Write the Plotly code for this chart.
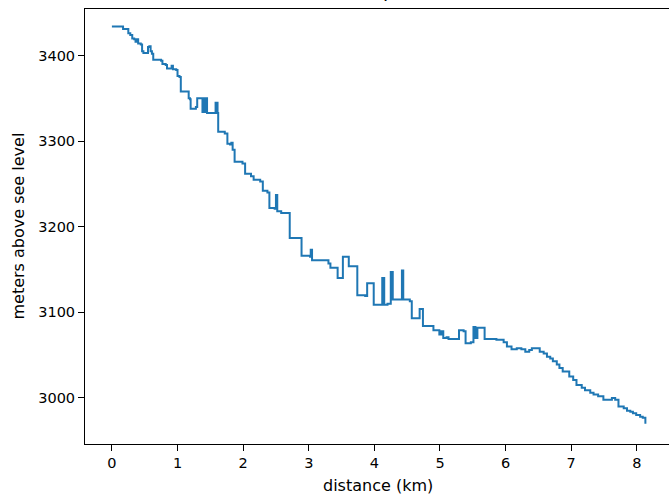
import plotly.graph_objects as go

distance_km = [0.00, 0.13, 0.17, 0.22, 0.25, 0.28, 0.31, 0.34, 0.36, 0.38, 0.39, 0.40, 0.44, 0.46, 0.48,
               0.53, 0.55, 0.57, 0.59, 0.61, 0.63, 0.75, 0.77, 0.82, 0.84, 0.89, 0.91, 0.93, 0.98, 1.00,
               1.03, 1.05, 1.15, 1.17, 1.19, 1.20, 1.28, 1.30, 1.37, 1.38, 1.385, 1.39, 1.40, 1.41, 1.42,
               1.43, 1.44, 1.45, 1.56, 1.58, 1.60, 1.61, 1.62, 1.72, 1.76, 1.80, 1.82, 1.84, 1.86, 1.87,
               1.99, 2.03, 2.12, 2.16, 2.26, 2.30, 2.37, 2.40, 2.48, 2.50, 2.52, 2.58, 2.69, 2.71, 2.87,
               2.89, 3.02, 3.03, 3.05, 3.17, 3.30, 3.33, 3.42, 3.44, 3.50, 3.52, 3.58, 3.61, 3.72, 3.74,
               3.86, 3.89, 3.96, 3.99, 4.09, 4.12, 4.15, 4.20, 4.25, 4.28, 4.39, 4.42, 4.44, 4.54, 4.57,
               4.66, 4.69, 4.72, 4.74, 4.87, 4.90, 4.96, 4.99, 5.02, 5.05, 5.10, 5.13, 5.26, 5.29, 5.36,
               5.39, 5.47, 5.51, 5.54, 5.57, 5.66, 5.68, 5.86, 5.97, 6.02, 6.09, 6.17, 6.24, 6.30, 6.36,
               6.40, 6.47, 6.52, 6.58, 6.63, 6.68, 6.72, 6.78, 6.82, 6.87, 6.93, 6.97, 7.03, 7.08, 7.16,
               7.21, 7.29, 7.34, 7.41, 7.49, 7.57, 7.62, 7.67, 7.72, 7.80, 7.85, 7.90, 7.94, 7.99, 8.05,
               8.09, 8.13]

elevation_m = [3434, 3434, 3431, 3431, 3426, 3424, 3420, 3419, 3416, 3416, 3419, 3414, 3413, 3405, 3403,
               3403, 3410, 3411, 3405, 3402, 3395, 3394, 3390, 3389, 3385, 3385, 3388, 3384, 3383, 3376,
               3375, 3358, 3358, 3350, 3349, 3338, 3340, 3350, 3350, 3334, 3350, 3334, 3350, 3334, 3350,
               3334, 3350, 3333, 3333, 3345, 3345, 3333, 3311, 3309, 3297, 3296, 3298, 3290, 3290, 3276,
               3274, 3262, 3259, 3255, 3253, 3242, 3240, 3222, 3221, 3237, 3218, 3216, 3216, 3187, 3187,
               3166, 3165, 3173, 3161, 3161, 3157, 3152, 3152, 3140, 3140, 3165, 3165, 3154, 3154, 3120,
               3119, 3134, 3134, 3109, 3109, 3140, 3109, 3110, 3147, 3115, 3115, 3149, 3115, 3113, 3093,
               3093, 3104, 3104, 3084, 3084, 3079, 3079, 3074, 3078, 3070, 3071, 3069, 3069, 3079, 3078,
               3064, 3065, 3083, 3070, 3082, 3082, 3069, 3068, 3065, 3060, 3057, 3058, 3057, 3054, 3056,
               3058, 3058, 3054, 3052, 3048, 3046, 3043, 3039, 3035, 3031, 3031, 3025, 3021, 3015, 3012,
               3009, 3006, 3004, 3002, 2998, 2998, 3000, 2998, 2990, 2988, 2985, 2984, 2982, 2980, 2978,
               2977, 2970]

x_ticks = [0, 1, 2, 3, 4, 5, 6, 7, 8]
y_ticks = [3000, 3100, 3200, 3300, 3400]

title_text = "Elevation of the route plotted over distance"
x_title = "distance (km)"
y_title = "meters above see level"

font = dict(family="DejaVu Sans", size=16, color="#000000")
tick_font = dict(family="DejaVu Sans", size=14.5, color="#000000")
PLOT_W = 584.0
PLOT_H = 435.0

fig = go.Figure()
fig.add_trace(go.Scatter(
    x=distance_km, y=elevation_m, mode="lines",
    line=dict(color="#1f77b4", width=2, shape="hv"),
    showlegend=False, hoverinfo="skip",
))

fig.update_layout(
    width=669, height=494,
    margin=dict(l=85, r=0, t=9, b=50),
    paper_bgcolor="white", plot_bgcolor="white",
    font=font,
    xaxis=dict(
        range=[-0.41, 8.49], tickvals=x_ticks, ticks="outside", ticklen=6, tickwidth=1,
        tickcolor="black", showline=True, linecolor="black", linewidth=1, mirror=True,
        showgrid=False, zeroline=False, tickfont=tick_font, automargin=False,
    ),
    yaxis=dict(
        range=[2946.2, 3454.4], tickvals=y_ticks, ticks="outside", ticklen=6, tickwidth=1,
        tickcolor="black", showline=True, linecolor="black", linewidth=1,
        showgrid=False, zeroline=False, tickfont=tick_font, automargin=False,
    ),
    annotations=[
        dict(
            text=title_text, xref="paper", yref="paper", x=0.502, y=1 + 6 / PLOT_H,
            xanchor="center", yanchor="bottom", showarrow=False,
            font=dict(family="DejaVu Sans", size=19, color="#000000"),
        ),
        dict(
            text=x_title, xref="paper", yref="paper", x=0.502, y=-(485 - 444) / PLOT_H,
            xanchor="center", yanchor="middle", showarrow=False, font=font,
        ),
        dict(
            text=y_title, xref="paper", yref="paper", x=-(85 - 18) / PLOT_W, y=0.5,
            xanchor="center", yanchor="middle", showarrow=False, textangle=-90, font=font,
        ),
    ],
)

fig.write_html(
    "out.html",
    config=dict(displayModeBar=False),
    post_script="document.body.style.margin='0';document.body.style.overflow='hidden';",
)
